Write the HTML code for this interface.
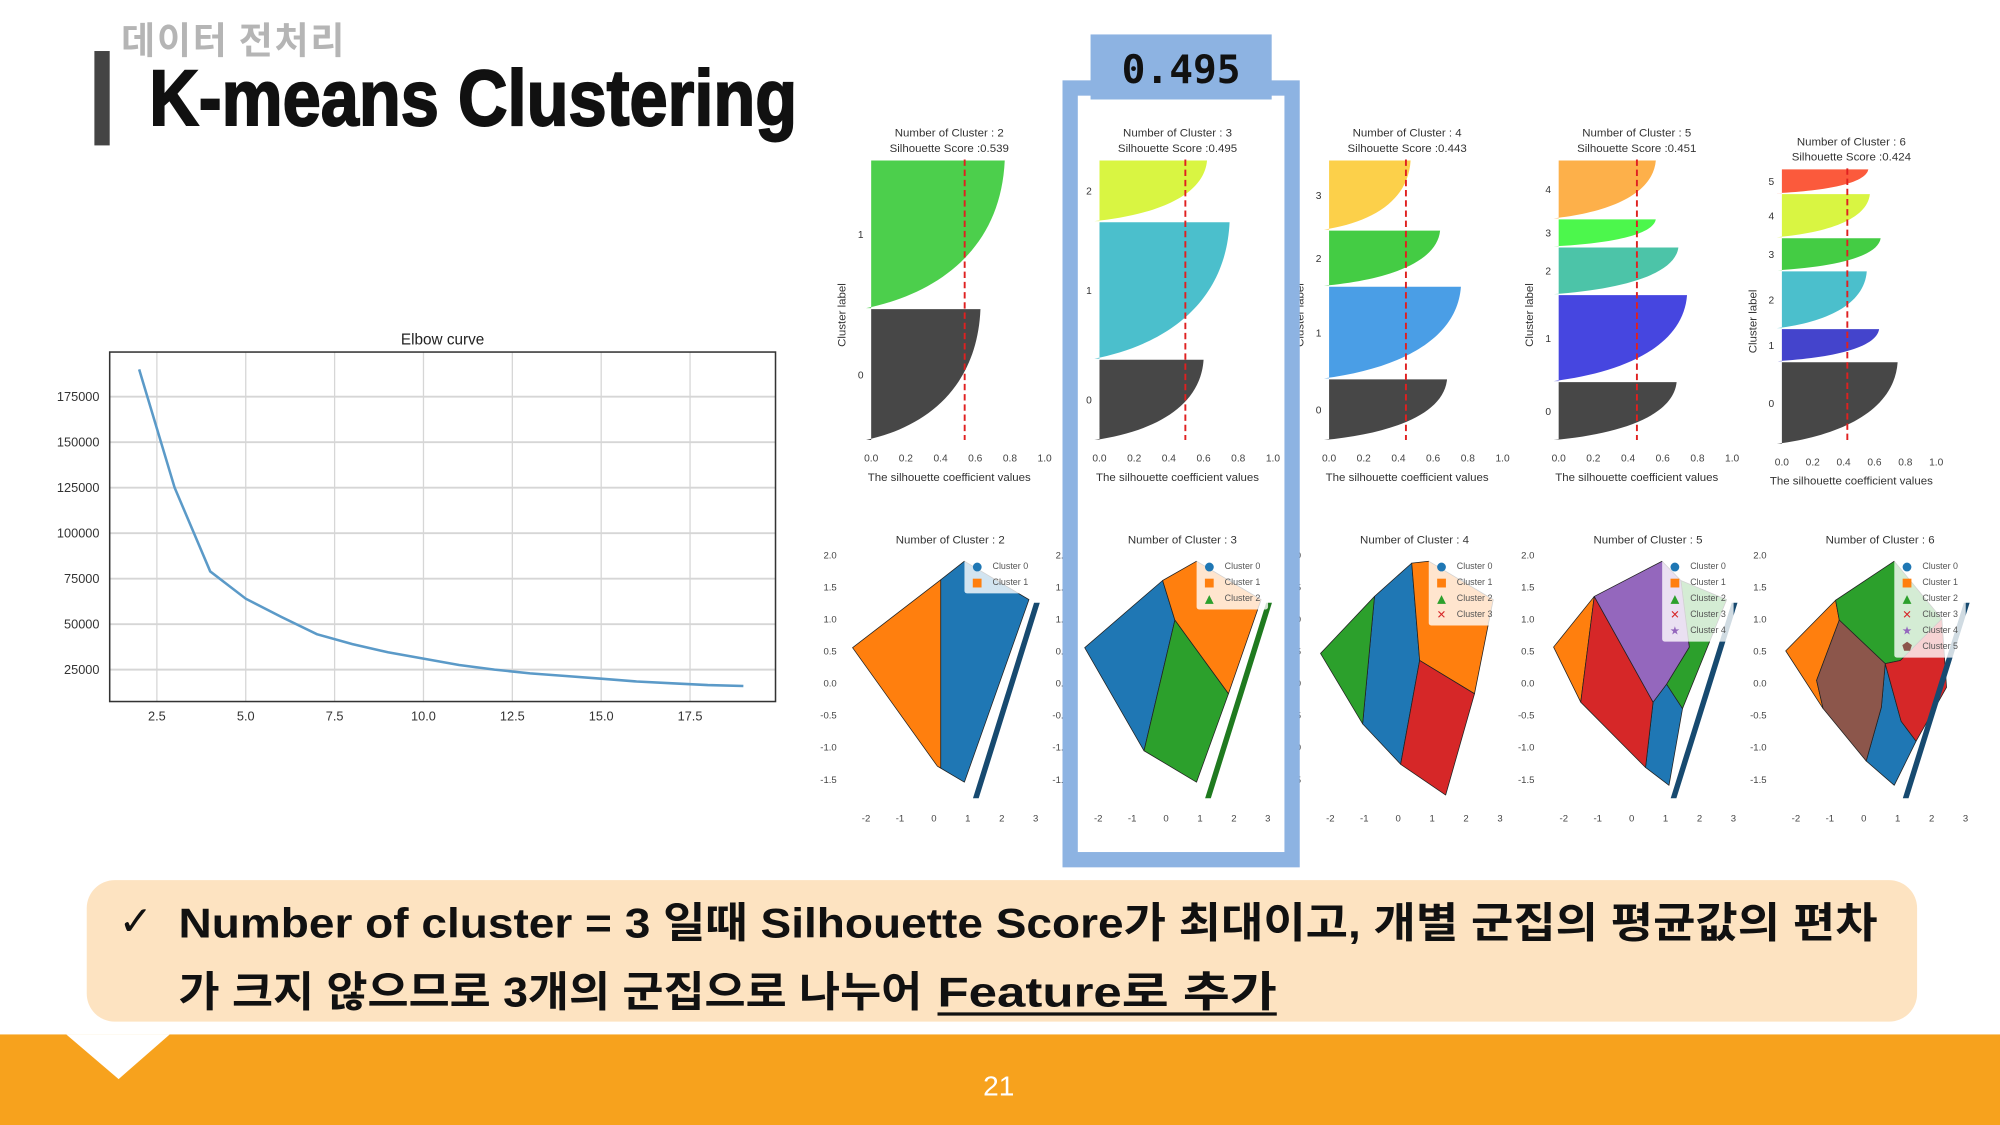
<!DOCTYPE html>
<html><head><meta charset="utf-8"><style>
html,body{margin:0;padding:0;background:#fff;}
svg{display:block;}
text{font-family:"Liberation Sans","Noto Sans CJK KR",sans-serif;}
</style></head><body>
<svg id="slide" width="2000" height="1125" viewBox="0 0 1568 882" xmlns="http://www.w3.org/2000/svg">
<rect x="0" y="0" width="1568" height="882" fill="#ffffff"/>
<rect x="74" y="40" width="12" height="74" fill="#444"/>
<text x="95" y="42" font-size="29" fill="#b5b5b5" font-weight="bold" textLength="175" style="font-family:'Noto Sans CJK KR',sans-serif">데이터 전처리</text>
<text x="117" y="98" font-size="62" font-weight="900" fill="#111" stroke="#111" stroke-width="1.5" textLength="508" lengthAdjust="spacingAndGlyphs">K-means Clustering</text>

<g id="elbow"></g>
<g id="sil"></g>
<g id="scat"></g>

<rect x="839" y="69" width="174" height="605" fill="none" stroke="#8db3e2" stroke-width="12"/>
<rect x="855" y="27" width="142" height="51" fill="#8db3e2"/>
<text x="926" y="65" font-size="31" font-weight="bold" fill="#111" text-anchor="middle" style="font-family:'DejaVu Sans Mono','Liberation Mono',monospace">0.495</text>

<rect x="68" y="690" width="1435" height="111" rx="22" fill="#fde3c1"/>
<text x="93" y="733" font-size="32" font-weight="bold" fill="#111" style="font-family:'DejaVu Sans',sans-serif">✓</text>
<text x="140" y="735" font-size="33" font-weight="bold" fill="#111" textLength="1332" lengthAdjust="spacingAndGlyphs">Number of cluster = 3 일때 Silhouette Score가 최대이고, 개별 군집의 평균값의 편차</text>
<text x="140" y="789" font-size="33" font-weight="bold" fill="#111" textLength="583" lengthAdjust="spacingAndGlyphs">가 크지 않으므로 3개의 군집으로 나누어</text>
<text x="735" y="789" font-size="33" font-weight="bold" fill="#111" textLength="266" lengthAdjust="spacingAndGlyphs">Feature로 추가</text>
<line x1="735" y1="795" x2="1001" y2="795" stroke="#111" stroke-width="2.5"/>

<rect x="0" y="811" width="1568" height="71" fill="#f7a21d"/>
<polygon points="52,811 133,811 93,846" fill="#ffffff"/>
<text x="783" y="859" font-size="22" fill="#ffffff" text-anchor="middle">21</text>
</svg>
<script>
const NS="http://www.w3.org/2000/svg";
// ---- Elbow data ----
const ELBOW_K=[2,3,4,5,6,7,8,9,10,11,12,13,14,15,16,17,18,19];
const ELBOW_SSE=[190000,125000,79000,64000,54000,44500,39000,34500,31000,27500,25000,23000,21500,20000,18500,17500,16500,16000];
const ELBOW_XTICKS=[2.5,5.0,7.5,10.0,12.5,15.0,17.5];
const ELBOW_YTICKS=[25000,50000,75000,100000,125000,150000,175000];
// ---- Silhouette data ----
const SIL_K=[2,3,4,5,6];
const SIL_SCORE=[0.539,0.495,0.443,0.451,0.424];
const SIL_BAND_TOP=[[0,0.53],[0,0.22,0.71],[0,0.25,0.45,0.78],[0,0.21,0.31,0.48,0.79],[0,0.09,0.25,0.37,0.58,0.70]];
const SIL_BAND_BOTTOM=[[0.53,1],[0.22,0.71,1],[0.25,0.45,0.78,1],[0.21,0.31,0.48,0.79,1],[0.09,0.25,0.37,0.58,0.70,1]];
const SIL_BAND_MAX=[[0.77,0.63],[0.62,0.75,0.6],[0.47,0.64,0.76,0.68],[0.56,0.56,0.69,0.74,0.68],[0.56,0.57,0.64,0.55,0.63,0.75]];
const SIL_BAND_LABEL=[["1","0"],["2","1","0"],["3","2","1","0"],["4","3","2","1","0"],["5","4","3","2","1","0"]];
const SIL_COLORS=[["#4ccf4c","#474747"],["#d9f542","#4bbfcc","#474747"],["#fcd04a","#44cc44","#4a9ee6","#474747"],["#fdb04a","#4cf74c","#4cc4a8","#4646e0","#474747"],["#fb5a3c","#d9f542","#44cc44","#4bbfcc","#4444cc","#474747"]];
const SIL_XTICKS=["0.0","0.2","0.4","0.6","0.8","1.0"];
// ---- Scatter data (cluster regions in data coords, index = cluster id) ----
const SC_XTICKS=[-2,-1,0,1,2,3];
const SC_YTICKS=[2.0,1.5,1.0,0.5,0.0,-0.5,-1.0,-1.5];
const SC_REGIONS=[
 [[[0.2,1.61],[0.9,1.9],[2.8,1.3],[0.9,-1.55],[0.2,-1.33]],[[-2.4,0.55],[0.2,1.61],[0.2,-1.33],[0.1,-1.3]]],
 [[[-2.4,0.55],[-0.1,1.6],[0.26,0.98],[-0.65,-1.06]],[[-0.1,1.6],[0.9,1.9],[2.8,1.3],[1.84,-0.17],[0.26,0.98]],[[0.26,0.98],[1.84,-0.17],[0.9,-1.55],[-0.65,-1.06]]],
 [[[-0.7,1.35],[0.4,1.87],[0.63,0.35],[0.07,-1.27],[-1.05,-0.64]],[[0.4,1.87],[0.9,1.9],[2.8,1.3],[2.25,-0.17],[0.63,0.35]],[[-2.29,0.46],[-0.7,1.35],[-1.05,-0.64]],[[0.63,0.35],[2.25,-0.17],[1.4,-1.75],[0.07,-1.27]]],
 [[[0.63,-0.3],[1.03,-0.02],[1.5,-0.4],[1.1,-1.6],[0.41,-1.32]],[[-2.3,0.56],[-1.1,1.35],[-1.5,-0.3]],[[1.45,1.6],[2.8,1.3],[1.5,-0.4],[1.03,-0.02],[1.7,0.56]],[[-1.1,1.35],[0.63,-0.3],[0.41,-1.32],[-1.5,-0.3]],[[-1.1,1.35],[0.9,1.9],[1.45,1.6],[1.7,0.56],[1.03,-0.02],[0.63,-0.3]]],
 [[[0.63,0.3],[1.1,-0.6],[1.54,-0.91],[0.9,-1.6],[0.07,-1.22],[0.52,-0.38]],[[-2.3,0.5],[-0.83,1.29],[-0.72,0.98],[-1.39,0.04],[-1.2,-0.4]],[[-0.83,1.29],[0.9,1.9],[2.3,1.0],[1.08,0.35],[0.63,0.3],[-0.72,0.98]],[[1.08,0.35],[2.3,1.0],[2.44,-0.07],[1.54,-0.91],[1.1,-0.6],[0.63,0.3]],[[0,0],[0,0],[0,0]],[[-0.72,0.98],[0.63,0.3],[0.52,-0.38],[0.07,-1.22],[-1.2,-0.4],[-1.39,0.04]]]
];
const SC_COLORS=["#1f77b4","#ff7f0e","#2ca02c","#d62728","#9467bd","#8c564b"];
const SC_STRIPE_COLOR=["#174a70","#1f7a1f",null,"#174a70","#174a70"];
const SC_MARKERS=["●","■","▲","✕","★","⬟"];

function mk(tag,attrs,parent,txt){const e=document.createElementNS(NS,tag);for(const k in attrs)e.setAttribute(k,attrs[k]);if(txt!==undefined)e.textContent=txt;parent.appendChild(e);return e;}

// ===== Elbow chart =====
(function(){
 const g=document.getElementById('elbow');
 const L=86,R=608,T=276,B=550;
 const sx=v=>123+(v-2.5)*(541-123)/15;
 const sy=v=>311+(175000-v)*(525-311)/150000;
 ELBOW_XTICKS.forEach(t=>{
  const l=mk('line',{x1:sx(t),x2:sx(t),y1:T,y2:B,stroke:'#d6d6d6','stroke-width':1},g);
  
  
  const tx=mk('text',{x:sx(t),y:B+15,'font-size':10,'text-anchor':'middle',fill:'#333'},g,t.toFixed(1));
  
  
 });
 ELBOW_YTICKS.forEach(t=>{
  const l=mk('line',{x1:L,x2:R,y1:sy(t),y2:sy(t),stroke:'#d6d6d6','stroke-width':1.5},g);
  
  
  const tx=mk('text',{x:L-8,y:sy(t)+3.5,'font-size':10,'text-anchor':'end',fill:'#333'},g,String(t));
  
  
 });
 const fr=mk('rect',{x:L,y:T,width:R-L,height:B-T,fill:'none',stroke:'#333','stroke-width':1.2},g);
 
 
 const ti=mk('text',{x:(L+R)/2,y:270,'font-size':12,'text-anchor':'middle',fill:'#222'},g,'Elbow curve');
 
 
 const pts=ELBOW_K.map((k,i)=>sx(k).toFixed(1)+','+sy(ELBOW_SSE[i]).toFixed(1)).join(' ');
 const pl=mk('polyline',{points:pts,fill:'none',stroke:'#5b9ac8','stroke-width':2},g);
 
 
})();

// ===== Silhouette plots =====
(function(){
 const g=document.getElementById('sil');
 const X0=[683,862,1042,1222,1397],W=[136,136,136,136,121],TOP=[125,125,125,125,132],BOT=[345,345,345,345,348];
 SIL_K.forEach((k,p)=>{
  const pg=mk('g',{},g);
  
  
  const x0=X0[p],w=W[p],top=TOP[p],bot=BOT[p],h=bot-top;
  const sx=v=>x0+v*w, sy=f=>top+f*h;
  const cx=x0+w*0.45;
  const t1=mk('text',{x:cx,y:top-18,'font-size':9,'text-anchor':'middle',fill:'#333'},pg,'Number of Cluster : '+k);
  
  
  const t2=mk('text',{x:cx,y:top-6,'font-size':9,'text-anchor':'middle',fill:'#333'},pg,'Silhouette Score :'+SIL_SCORE[p].toFixed(3));
  
  
  SIL_BAND_TOP[p].forEach((tf,i)=>{
   const a=sy(tf)+0.8,b=sy(SIL_BAND_BOTTOM[p][i]),m=SIL_BAND_MAX[p][i],hh=b-a;
   const d=`M${sx(0)},${a} L${sx(m)},${a} C${sx(m*0.97)},${a+0.6*hh} ${sx(m*0.5)},${b-0.1*hh} ${sx(0)-4},${b} L${sx(0)},${b} Z`;
   const band=mk('path',{d:d,fill:SIL_COLORS[p][i]},pg);
   
   
   const lb=mk('text',{x:x0-6,y:(a+b)/2+3,'font-size':8,'text-anchor':'end',fill:'#333'},pg,SIL_BAND_LABEL[p][i]);
   
   
  });
  const rl=mk('line',{x1:sx(SIL_SCORE[p]),x2:sx(SIL_SCORE[p]),y1:top,y2:bot,stroke:'#e02020','stroke-width':1.5,'stroke-dasharray':'5,3'},pg);
  
  
  SIL_XTICKS.forEach((t,i)=>{
   const tx=mk('text',{x:sx(i*0.2),y:bot+17,'font-size':8,'text-anchor':'middle',fill:'#444'},pg,t);
   
   
  });
  const xl=mk('text',{x:cx,y:bot+32,'font-size':9,'text-anchor':'middle',fill:'#333'},pg,'The silhouette coefficient values');
  
  
  const yl=mk('text',{x:0,y:0,'font-size':9,'text-anchor':'middle',fill:'#333',transform:`translate(${x0-20},${(top+bot)/2+12}) rotate(-90)`},pg,'Cluster label');
  
  
 });
})();

// ===== Scatter plots =====
(function(){
 const g=document.getElementById('scat');
 const PX0=[679,861,1043,1226,1408];
 SIL_K.forEach((k,p)=>{
  const pg=mk('g',{},g);
  
  
  const px0=PX0[p];
  const sx=v=>px0+(v+2)*26.6, sy=v=>435+(2-v)*50.2;
  const ti=mk('text',{x:px0+66,y:426,'font-size':9,'text-anchor':'middle',fill:'#333'},pg,'Number of Cluster : '+k);
  
  
  SC_YTICKS.forEach(t=>{
   const tx=mk('text',{x:px0-23,y:sy(t)+3,'font-size':7.5,'text-anchor':'end',fill:'#444'},pg,t.toFixed(1));
   
   
  });
  SC_XTICKS.forEach(t=>{
   const tx=mk('text',{x:sx(t),y:644,'font-size':7.5,'text-anchor':'middle',fill:'#444'},pg,String(t));
   
   
  });
  SC_REGIONS[p].forEach((poly,c)=>{
   const pts=poly.map(q=>sx(q[0]).toFixed(1)+','+sy(q[1]).toFixed(1)).join(' ');
   const pr=mk('polygon',{points:pts,fill:SC_COLORS[c],stroke:'#222','stroke-width':0.6,'stroke-linejoin':'round'},pg);
   
   
  });
  if(SC_STRIPE_COLOR[p]){
   const st=[[2.95,1.25],[3.12,1.25],[1.32,-1.8],[1.15,-1.8]].map(q=>sx(q[0]).toFixed(1)+','+sy(q[1]).toFixed(1)).join(' ');
   const s=mk('polygon',{points:st,fill:SC_STRIPE_COLOR[p]},pg);
   
   
  }
  const lx=sx(0.9),ly=437;
  const lg=mk('rect',{x:lx,y:ly,width:56,height:k*12.6+3,fill:'#ffffff','fill-opacity':0.8,rx:2},pg);
  
  
  for(let c=0;c<k;c++){
   const m=mk('text',{x:lx+10,y:ly+10+c*12.6,'font-size':9,'text-anchor':'middle',fill:SC_COLORS[c],style:"font-family:'DejaVu Sans',sans-serif"},pg,SC_MARKERS[c]);
   
   
   const t=mk('text',{x:lx+22,y:ly+9+c*12.6,'font-size':7,fill:'#555'},pg,'Cluster '+c);
   
   
  }
 });
})();
</script>
</body></html>
